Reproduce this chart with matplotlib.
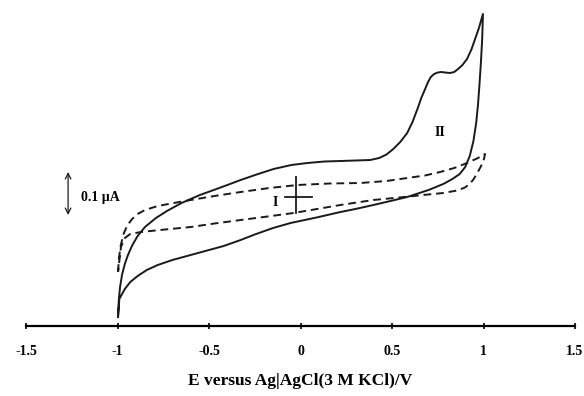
import matplotlib
matplotlib.use('Agg')
import matplotlib.pyplot as plt

# cyclic voltammograms, E in V, I in uA (relative, no y axis shown)
e_solid = [-0.997, -0.993, -0.986, -0.975, -0.960, -0.943, -0.920, -0.890, -0.850,
           -0.790, -0.730, -0.650, -0.550, -0.474, -0.400, -0.327, -0.240, -0.147,
           -0.050, 0.038, 0.130, 0.218, 0.300, 0.381, 0.430, 0.470, 0.507, 0.545,
           0.583, 0.612, 0.638, 0.660, 0.681, 0.697, 0.712, 0.730, 0.750, 0.770,
           0.790, 0.817, 0.840, 0.861, 0.885, 0.910, 0.935, 0.954, 0.975, 0.997,
           0.993, 0.986, 0.978, 0.970, 0.960, 0.945, 0.925, 0.900, 0.870, 0.830,
           0.780, 0.700, 0.583, 0.480, 0.398, 0.300, 0.218, 0.100, -0.054, -0.150,
           -0.250, -0.327, -0.420, -0.520, -0.620, -0.700, -0.780, -0.840, -0.890,
           -0.930, -0.960, -0.990, -0.997]
i_solid = [-0.240, -0.206, -0.180, -0.155, -0.134, -0.116, -0.097, -0.078, -0.060,
           -0.042, -0.028, -0.012, 0.004, 0.014, 0.024, 0.034, 0.045, 0.056,
           0.064, 0.068, 0.071, 0.072, 0.073, 0.074, 0.078, 0.085, 0.096, 0.110,
           0.128, 0.150, 0.175, 0.198, 0.216, 0.230, 0.240, 0.246, 0.249, 0.250,
           0.249, 0.248, 0.250, 0.256, 0.264, 0.276, 0.296, 0.316, 0.338, 0.366,
           0.318, 0.270, 0.225, 0.185, 0.148, 0.112, 0.082, 0.060, 0.046, 0.036,
           0.026, 0.014, 0.000, -0.009, -0.016, -0.024, -0.030, -0.040, -0.052, -0.062,
           -0.075, -0.086, -0.098, -0.108, -0.118, -0.126, -0.136, -0.146, -0.158,
           -0.170, -0.184, -0.204, -0.240]

e_dash = [-0.997, -0.992, -0.982, -0.965, -0.945, -0.920, -0.890, -0.850, -0.780,
          -0.692, -0.599, -0.470, -0.327, -0.170, -0.016, 0.160, 0.327, 0.470,
          0.583, 0.680, 0.763, 0.840, 0.910, 0.970, 1.008,
          1.004, 0.995, 0.981, 0.963, 0.943, 0.920, 0.899, 0.856, 0.780, 0.670,
          0.540, 0.398, 0.218, 0.090, -0.038, -0.180, -0.327, -0.470, -0.599,
          -0.740, -0.872, -0.930, -0.960, -0.981, -0.997]
i_dash = [-0.150, -0.122, -0.096, -0.072, -0.056, -0.044, -0.034, -0.026, -0.018,
          -0.012, -0.006, 0.002, 0.010, 0.018, 0.024, 0.027, 0.028, 0.032,
          0.038, 0.043, 0.050, 0.058, 0.068, 0.078, 0.086,
          0.078, 0.068, 0.058, 0.046, 0.034, 0.025, 0.019, 0.013, 0.008, 0.004,
          -0.001, -0.006, -0.016, -0.024, -0.032, -0.039, -0.046, -0.053, -0.060,
          -0.065, -0.070, -0.074, -0.082, -0.100, -0.150]

xticks = [-1.5, -1, -0.5, 0, 0.5, 1, 1.5]
xticklabels = ['-1.5', '-1', '-0.5', '0', '0.5', '1', '1.5']

plt.rcParams['font.family'] = 'Liberation Serif'
plt.rcParams['font.weight'] = 'bold'
plt.rcParams['axes.labelweight'] = 'bold'

fig = plt.figure(figsize=(5.84, 3.96), dpi=100)
ax = fig.add_axes([26 / 584, 70 / 396, 549 / 584, 326 / 396])

ax.plot(e_solid, i_solid, color='#1a1a1a', lw=1.4)
ax.plot(e_dash, i_dash, color='#1a1a1a', lw=1.4, ls=(0, (4, 2.5)))

# origin cross
ax.plot([-0.027, -0.027], [-0.032, 0.040], color='#1a1a1a', lw=1.3)
ax.plot([-0.082, 0.065], [0, 0], color='#1a1a1a', lw=1.3)

# scale bar
ax.annotate('', xy=(-1.27, 0.05), xytext=(-1.27, -0.036),
            arrowprops=dict(arrowstyle='<->', color='#1a1a1a', lw=0.9,
                            shrinkA=0, shrinkB=0))
ax.text(-1.20, 0.0, '0.1 µA', fontsize=10, va='center', ha='left')

ax.text(-0.14, -0.012, 'I', fontsize=10, va='center', ha='center')
ax.text(0.763, 0.13, 'II', fontsize=10, va='center', ha='center')

ax.set_xlim(-1.5, 1.5)
ax.set_ylim(-0.258, 0.394)
ax.set_xticks(xticks)
ax.set_xticklabels(xticklabels)
ax.set_yticks([])
for s in ['top', 'right', 'left']:
    ax.spines[s].set_visible(False)
ax.spines['bottom'].set_linewidth(1.6)
ax.tick_params(axis='x', direction='inout', length=5, width=1.2,
               labelsize=10, pad=11)
ax.set_xlabel('E versus Ag|AgCl(3 M KCl)/V', fontsize=12.5, labelpad=11)

fig.savefig('out.png', dpi=100)
